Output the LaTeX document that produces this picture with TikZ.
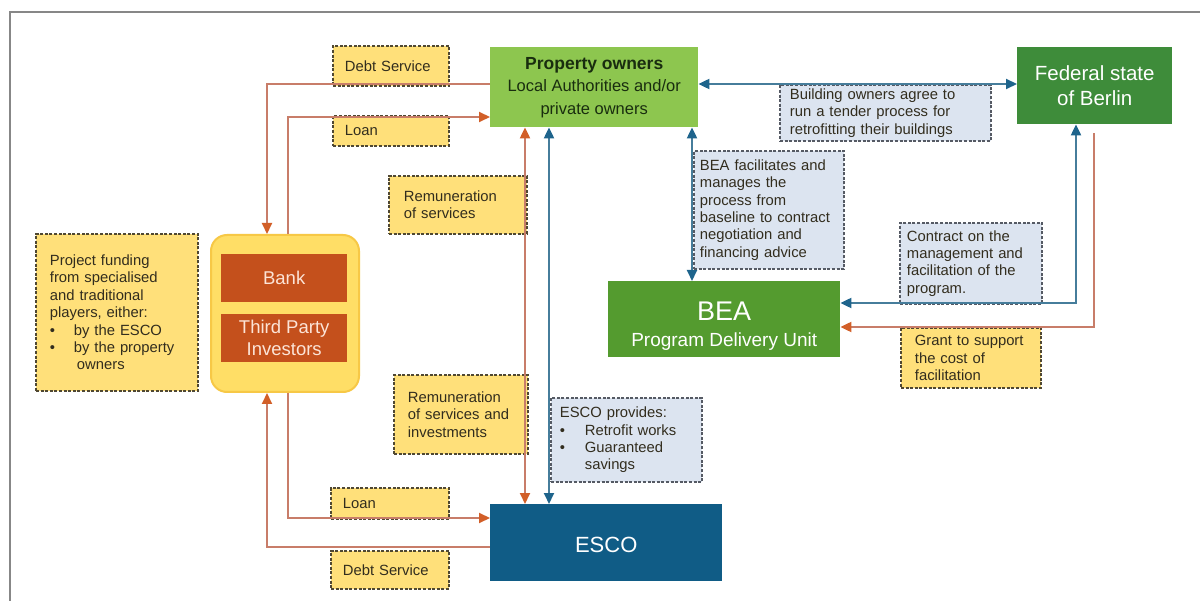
\documentclass[tikz,border=0pt]{standalone}
\usepackage{fontspec}
\setmainfont{Liberation Sans}
\usetikzlibrary{arrows.meta,calc}
\definecolor{poG}{RGB}{141,198,79}
\definecolor{fedG}{RGB}{62,140,58}
\definecolor{beaG}{RGB}{84,155,47}
\definecolor{escoB}{RGB}{16,92,134}
\definecolor{bankO}{RGB}{196,80,28}
\definecolor{contY}{RGB}{255,222,102}
\definecolor{contE}{RGB}{247,200,70}
\definecolor{labY}{RGB}{255,224,122}
\definecolor{labBl}{RGB}{220,228,240}
\definecolor{labE}{RGB}{80,72,50}
\definecolor{labEb}{RGB}{85,90,100}
\definecolor{labT}{RGB}{50,45,30}
\definecolor{lineO}{RGB}{200,125,105}
\definecolor{arrO}{RGB}{210,95,40}
\definecolor{lineB}{RGB}{70,125,155}
\definecolor{arrB}{RGB}{30,100,140}
\definecolor{frameG}{RGB}{135,135,135}
\definecolor{poT}{RGB}{25,45,15}
\definecolor{bankT}{RGB}{252,228,215}
\newcommand\labfont{\fontsize{14.8}{17.4}\selectfont}
\begin{document}
\begin{tikzpicture}[x=1pt,y=-1pt,
  box/.style={draw=none, inner sep=0pt, anchor=north west, align=center},
  ylab/.style={draw=labE, fill=labY, line width=1.9pt, dash pattern=on 3pt off 1.6pt,
     inner sep=0pt, anchor=north west, align=left, text=labT, font=\labfont},
  blab/.style={ylab, draw=labEb, fill=labBl},
  oline/.style={draw=lineO, line width=2pt, >={Triangle[length=11pt,width=10pt,color=arrO]}},
  bline/.style={draw=lineB, line width=2pt, >={Triangle[length=11pt,width=10pt,color=arrB]}}]
\useasboundingbox (0,0) rectangle (1200,601);
\fill[white] (0,0) rectangle (1200,601);
\draw[frameG, line width=2.5pt] (10,601) -- (10,12) -- (1200,12);

% main boxes
\node[box, fill=poG, text=poT, minimum width=208pt, minimum height=80pt,
  font=\fontsize{16.5}{22.5}\selectfont] (po) at (490,47)
  {{\fontsize{17.5}{22.5}\selectfont\bfseries Property owners}\\Local Authorities and/or\\private owners};
\node[box, fill=fedG, text=white, minimum width=155pt, minimum height=77pt,
  font=\fontsize{20.5}{25}\selectfont] (fed) at (1017,47) {Federal state\\of Berlin};
\node[box, fill=beaG, text=white, minimum width=232pt, minimum height=76pt,
  font=\fontsize{19}{26}\selectfont] (bea) at (608,281)
  {{\fontsize{27}{25}\selectfont\rule{0pt}{33pt}BEA}\\Program Delivery Unit};
\node[box, fill=escoB, text=white, minimum width=232pt, minimum height=77pt,
  font=\fontsize{22}{26}\selectfont] (esco) at (490,504) {\rule{0pt}{20pt}ESCO};
\node[box, fill=contY, draw=contE, line width=2pt, rounded corners=16pt,
  minimum width=148pt, minimum height=157pt] (cont) at (210,234) {};
\node[box, fill=bankO, text=bankT, minimum width=126pt, minimum height=48pt,
  font=\fontsize{18.5}{22}\selectfont] (bank) at (221,254) {Bank};
\node[box, fill=bankO, text=bankT, minimum width=126pt, minimum height=48pt,
  font=\fontsize{18.5}{22}\selectfont] (tpi) at (221,314) {Third Party\\Investors};

% labels
\node[ylab, minimum width=162pt, minimum height=157pt, text width=134pt] (pf) at (35,233)
  {Project funding\\from specialised\\and traditional\\players, either:\\
   \makebox[24pt][l]{\textbullet}by the ESCO\\
   \makebox[24pt][l]{\textbullet}by the property\\
   \hspace*{27pt}owners};
\node[ylab, minimum width=116pt, minimum height=40pt, text width=92pt] (ds1) at (332,45) {Debt Service};
\node[ylab, minimum width=116pt, minimum height=30pt, text width=92pt] (ln1) at (332,115) {Loan};
\node[ylab, minimum width=138pt, minimum height=58pt, text width=108pt] (rem1) at (388,175)
  {Remuneration\\of services};
\node[ylab, minimum width=134pt, minimum height=79pt, text width=106pt] (rem2) at (393,374)
  {Remuneration\\of services and\\investments};
\node[ylab, minimum width=118pt, minimum height=31pt, text width=94pt] (ln2) at (330,487) {Loan};
\node[ylab, minimum width=118pt, minimum height=38pt, text width=94pt] (ds2) at (330,550) {Debt Service};
\node[ylab, minimum width=140pt, minimum height=60pt, text width=112pt] (grant) at (900,327)
  {Grant to support\\the cost of\\facilitation};
\node[blab, minimum width=211pt, minimum height=56pt, text width=191pt] (bld) at (779,84)
  {Building owners agree to\\run a tender process for\\retrofitting their buildings};
\node[blab, minimum width=150pt, minimum height=118pt, text width=138pt] (beaf) at (693,150)
  {BEA facilitates and\\manages the\\process from\\baseline to contract\\negotiation and\\financing advice};
\node[blab, minimum width=142pt, minimum height=81pt, text width=128pt] (ctr) at (899,222)
  {Contract on the\\management and\\facilitation of the\\program.};
\node[blab, minimum width=151pt, minimum height=84pt, text width=133pt] (esp) at (550,397)
  {ESCO provides:\\
   \makebox[25pt][l]{\textbullet}Retrofit works\\
   \makebox[25pt][l]{\textbullet}Guaranteed\\
   \hspace*{25pt}savings};

% connectors
\draw[oline,->] (po.west |- 0,84) -| (cont.north -| 267,0);
\draw[oline,->] (cont.north -| 288,0) |- (po.west |- 0,117);
\draw[oline,<->] (esco.north -| 525,0) -- (po.south -| 525,0);
\draw[bline,<->] (esco.north -| 549,0) -- (po.south -| 549,0);
\draw[bline,<->] (po.south -| 692,0) -- (bea.north -| 692,0);
\draw[bline,<->] (po.east |- 0,84) -- (fed.west |- 0,84);
\draw[bline,<->] (bea.east |- 0,303) -| (fed.south -| 1076,0);
\draw[oline,->] ($(fed.south -| 1094,0)+(0,9)$) |- (bea.east |- 0,327);
\draw[oline,->] (cont.south -| 288,0) |- (esco.west |- 0,518);
\draw[oline,->] (esco.west |- 0,547) -| (cont.south -| 267,0);
\end{tikzpicture}
\end{document}
